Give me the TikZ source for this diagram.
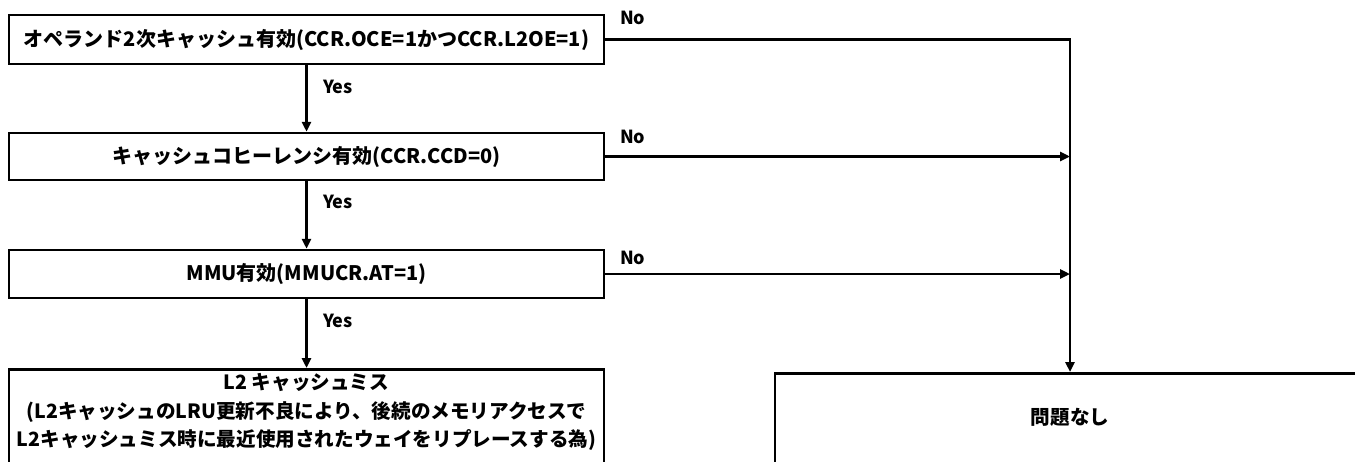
\documentclass[tikz,border=0pt]{standalone}
\usepackage{fontspec}
\setmainfont{Noto Sans CJK JP}
\usetikzlibrary{arrows.meta}
\begin{document}
\begin{tikzpicture}[x=1pt,y=-1pt,
  box/.style={draw,line width=2.5pt,minimum width=595pt,inner sep=0pt,font=\bfseries\fontsize{20}{29}\selectfont},
  lbl/.style={font=\bfseries\fontsize{18}{20}\selectfont,inner sep=0pt},
  txt/.style={font=\bfseries\fontsize{19.6}{28.5}\selectfont,align=center,inner sep=0pt},
  conn/.style={line width=2.5pt},
  arr/.style={conn,-{Triangle[length=10pt,width=9pt]}}]
\clip (0,0) rectangle (1355,461);
\fill[white] (0,0) rectangle (1355,461);
\node[box,minimum height=49pt] (b1) at (306.5,39.5) {オペランド2次キャッシュ有効(CCR.OCE=1かつCCR.L2OE=1)};
\node[box,minimum height=47pt] (b2) at (306.5,156.5) {キャッシュコヒーレンシ有効(CCR.CCD=0)};
\node[box,minimum height=48pt] (b3) at (306.5,274) {MMU有効(MMUCR.AT=1)};
\node[box,minimum height=110pt,anchor=north] (b4) at (306.5,368) {};
\node[txt] (t4) at (306.5,412) {L2 キャッシュミス\\(L2キャッシュのLRU更新不良により、後続のメモリアクセスで\\L2キャッシュミス時に最近使用されたウェイをリプレースする為)};
\node[draw,line width=2.5pt,minimum width=590pt,minimum height=110pt,anchor=north,inner sep=0pt] (rb) at (1070,372) {};
\node[txt] (t5) at (1070,417) {問題なし};
\draw[arr] (b1.east) -- (b1.east -| rb.north) -- (rb.north);
\draw[arr] (b2.east) -- (b2.east -| rb.north);
\draw[arr] (b3.east) -- (b3.east -| rb.north);
\draw[arr] (b1.south) -- (b2.north);
\draw[arr] (b2.south) -- (b3.north);
\draw[arr] (b3.south) -- (b4.north);
\node[lbl,anchor=west] (n1) at (620,18) {No};
\node[lbl,anchor=west] (n2) at (620,137) {No};
\node[lbl,anchor=west] (n3) at (620,258) {No};
\node[lbl,anchor=west] (y1) at (323,87) {Yes};
\node[lbl,anchor=west] (y2) at (323,202) {Yes};
\node[lbl,anchor=west] (y3) at (323,321) {Yes};
\end{tikzpicture}
\end{document}
